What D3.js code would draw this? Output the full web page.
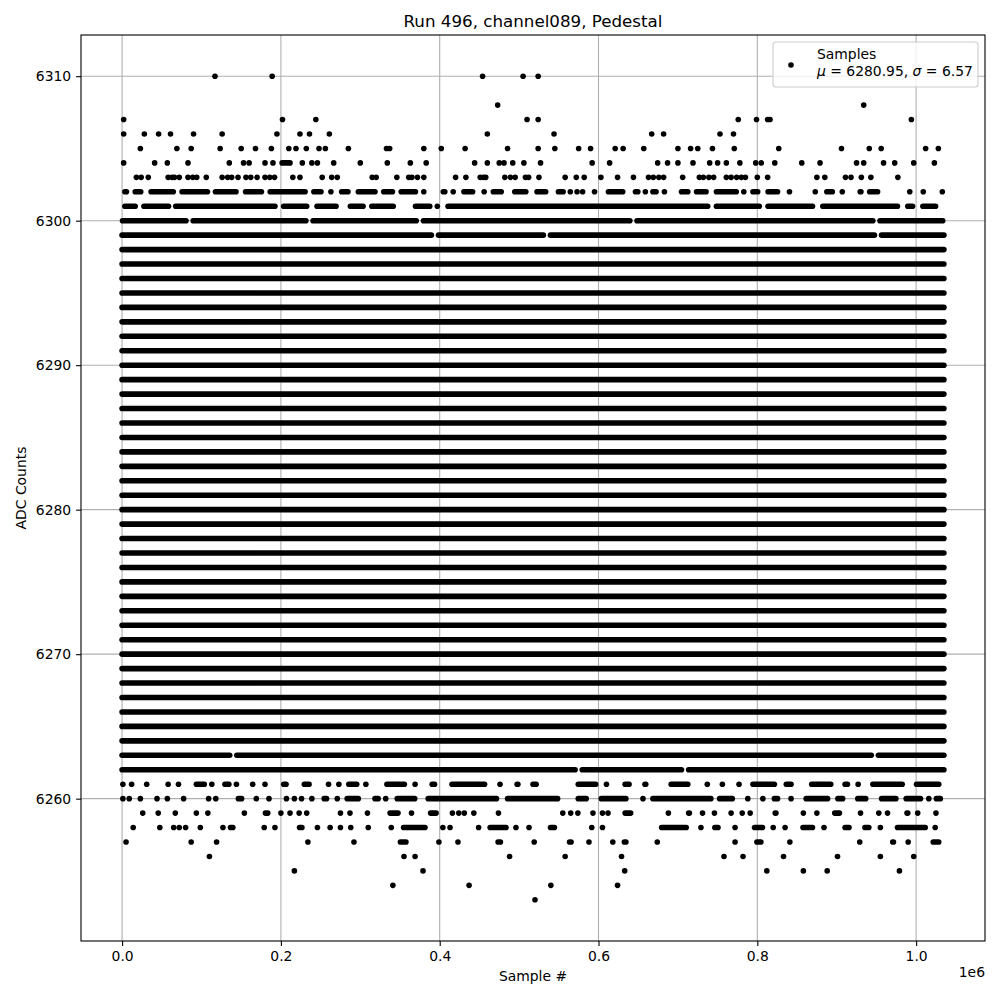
<!DOCTYPE html>
<html>
<head>
<meta charset="utf-8">
<script src="https://cdn.jsdelivr.net/npm/d3@7"></script>
<style>
    body { margin: 0; background: #fff; }
    text { font-family: "DejaVu Sans", sans-serif; }
</style>
</head>
<body>
<div id="chart-container"></div>
<script>
// sample index in units of 1e6, ADC counts are integers
const xTicks = [0.0, 0.2, 0.4, 0.6, 0.8, 1.0];
const yTicks = [6260, 6270, 6280, 6290, 6300, 6310];
const sampleMax = 1.035;

// levels where the samples form a continuous band over the full run
const denseLevels = [6262, 6263, 6264, 6265, 6266, 6267, 6268, 6269, 6270, 6271, 6272, 6273, 6274,
    6275, 6276, 6277, 6278, 6279, 6280, 6281, 6282, 6283, 6284, 6285, 6286, 6287, 6288, 6289, 6290,
    6291, 6292, 6293, 6294, 6295, 6296, 6297, 6298, 6299];
// small holes in the dense bands [level, sample]
const denseGaps = [[6299, 0.394], [6299, 0.535], [6299, 0.952], [6263, 0.140], [6263, 0.948],
    [6262, 0.575], [6262, 0.709]];

// sparse levels: single number = one sample, pair = run of neighbouring samples (outer edges)
const r6310 = [0.117, 0.189, 0.454, 0.505, 0.524];
const r6308 = [0.473, 0.934];
const r6307 = [0.002, 0.202, 0.244, 0.510, 0.524, 0.776, 0.799, 0.813, 0.816, 0.994];
const r6306 = [0.002, 0.028, 0.046, 0.061, 0.090, 0.126, 0.195, 0.224, 0.236, 0.261, 0.460, 0.544,
    0.667, 0.682, 0.753, 0.770];
const r6305 = [0.023, [0.068, 0.070], 0.087, [0.122, 0.125], 0.150, 0.168, 0.188, 0.210, 0.219, 0.232,
    0.248, 0.256, 0.285, 0.333, 0.337, 0.380, 0.402, 0.432, [0.483, 0.488], 0.524, 0.545, 0.575, 0.590,
    0.621, 0.631, 0.657, [0.697, 0.703], 0.716, 0.725, [0.741, 0.746], 0.771, 0.827, 0.906, 0.941, 0.956,
    1.012, 1.028];
const r6304 = [0.002, 0.041, 0.057, 0.083, 0.135, 0.153, 0.160, [0.177, 0.183], 0.190, [0.198, 0.215],
    0.227, 0.239, 0.246, [0.265, 0.268], 0.300, 0.334, [0.361, 0.365], [0.381, 0.385], 0.444, 0.460,
    0.475, 0.481, 0.492, 0.506, [0.525, 0.529], 0.592, 0.614, [0.671, 0.678], 0.687, [0.697, 0.703],
    0.719, 0.740, 0.750, 0.761, 0.778, 0.798, 0.805, 0.822, 0.856, [0.876, 0.882], 0.925, 0.934, 0.959,
    0.973, 0.997, 1.023];
const r6303 = [0.018, 0.024, 0.033, 0.058, 0.063, 0.066, 0.072, 0.083, 0.089, 0.094, 0.106, 0.126, 0.133,
    0.138, 0.146, 0.156, 0.162, 0.170, 0.180, 0.186, 0.192, 0.215, 0.224, 0.252, 0.264, 0.271, 0.315,
    0.320, 0.346, 0.361, 0.365, 0.372, 0.380, 0.420, 0.433, 0.451, 0.455, 0.458, 0.482, 0.489, 0.495,
    0.508, 0.512, 0.525, 0.558, 0.572, 0.582, 0.603, 0.624, 0.644, 0.663, 0.669, 0.676, 0.682, 0.706,
    0.727, 0.732, 0.739, 0.745, 0.761, 0.767, 0.774, 0.780, 0.785, 0.800, 0.813, 0.875, 0.885, 0.911,
    0.918, 0.931, 0.943, 0.977];
const r6302 = [[0.0, 0.009], [0.013, 0.027], [0.033, 0.068], [0.072, 0.111], [0.114, 0.147], [0.152, 0.179],
    [0.183, 0.234], [0.238, 0.254], [0.261, 0.265], [0.273, 0.288], [0.294, 0.322], [0.326, 0.344],
    [0.348, 0.373], 0.380, [0.401, 0.410], 0.417, [0.427, 0.445], 0.456, [0.464, 0.481], [0.491, 0.512],
    [0.519, 0.537], [0.546, 0.559], [0.562, 0.567], 0.573, 0.580, [0.592, 0.598], [0.609, 0.634],
    [0.643, 0.653], 0.659, [0.665, 0.676], 0.683, [0.701, 0.716], [0.720, 0.739], [0.745, 0.777], 0.783,
    [0.791, 0.804], [0.810, 0.829], [0.837, 0.844], 0.873, [0.884, 0.898], 0.907, [0.926, 0.934],
    [0.938, 0.955], 0.992, 1.009, 1.033];
const r6301 = [[0.0, 0.020], [0.024, 0.062], [0.064, 0.196], [0.200, 0.236], [0.242, 0.273], [0.284, 0.307],
    [0.311, 0.345], [0.366, 0.391], 0.397, [0.407, 0.741], [0.745, 0.806], [0.810, 0.873], [0.879, 0.980],
    [0.986, 0.999], [1.005, 1.028]];
const r6300 = [[-0.003, 0.084], [0.086, 0.235], [0.237, 0.374], [0.376, 0.643], [0.645, 0.949], [0.951, 1.037]];

const r6261 = [0.001, 0.012, [0.028, 0.034], 0.058, 0.071, [0.090, 0.107], 0.113, [0.126, 0.138], 0.144,
    [0.162, 0.167], 0.180, [0.200, 0.210], [0.226, 0.239], [0.257, 0.263], 0.273, [0.282, 0.299], 0.307,
    [0.330, 0.359], 0.369, [0.387, 0.397], [0.412, 0.460], [0.473, 0.479], [0.494, 0.502], [0.514, 0.525],
    [0.571, 0.600], 0.610, [0.630, 0.642], [0.655, 0.663], [0.688, 0.716], 0.737, 0.756, [0.774, 0.780],
    [0.791, 0.825], [0.833, 0.846], [0.865, 0.896], [0.907, 0.917], 0.927, [0.942, 0.986], [0.997, 1.032]];
const r6260 = [0.001, 0.009, [0.020, 0.026], 0.044, 0.057, [0.076, 0.079], 0.109, 0.118, [0.143, 0.154],
    0.169, 0.185, 0.207, 0.217, 0.226, [0.236, 0.242], [0.251, 0.261], 0.271, [0.280, 0.301],
    [0.315, 0.326], 0.332, [0.343, 0.372], [0.382, 0.475], [0.482, 0.552], [0.571, 0.588], [0.600, 0.638],
    0.656, [0.665, 0.745], [0.749, 0.772], 0.788, [0.806, 0.808], [0.818, 0.829], [0.839, 0.846],
    [0.858, 0.892], [0.898, 0.911], [0.923, 0.940], [0.953, 0.978], [0.984, 1.009], 1.016, [1.022, 1.034]];
const r6259 = [0.026, [0.042, 0.049], 0.067, [0.091, 0.096], 0.108, 0.154, [0.177, 0.187], 0.200,
    [0.208, 0.215], 0.223, [0.229, 0.236], 0.275, 0.287, [0.307, 0.311], [0.334, 0.351], [0.361, 0.368],
    [0.385, 0.399], 0.416, 0.424, 0.431, 0.443, 0.474, 0.555, 0.565, 0.574, 0.593, 0.605, 0.612,
    [0.630, 0.644], 0.688, [0.710, 0.718], 0.731, 0.746, 0.767, 0.781, 0.791, [0.819, 0.827], 0.858,
    0.875, [0.894, 0.907], 0.930, 0.953, 0.964, [0.985, 0.993], 1.002, 1.025];
const r6258 = [0.014, [0.044, 0.051], 0.065, 0.072, 0.080, [0.096, 0.101], 0.127, [0.133, 0.143], 0.179,
    [0.191, 0.194], [0.220, 0.230], [0.244, 0.248], 0.262, 0.275, [0.285, 0.291], 0.310, 0.339,
    [0.351, 0.385], 0.404, 0.413, 0.449, [0.460, 0.487], 0.496, [0.510, 0.515], [0.536, 0.548],
    [0.588, 0.595], 0.605, [0.676, 0.714], 0.729, [0.743, 0.754], 0.772, [0.793, 0.810], 0.820,
    [0.833, 0.837], [0.854, 0.873], 0.884, [0.907, 0.919], [0.932, 0.944], 0.955, [0.973, 1.015], 1.024];
const r6257 = [0.005, 0.087, 0.119, 0.234, 0.292, [0.347, 0.361], 0.399, 0.423, [0.470, 0.480], 0.519,
    [0.560, 0.569], 0.588, 0.618, [0.629, 0.638], 0.674, 0.772, [0.796, 0.808], 0.841, 0.929,
    [0.967, 0.975], 0.990, [1.018, 1.032]];
const r6256 = [0.110, 0.355, 0.369, 0.488, 0.558, 0.629, 0.758, 0.782, 0.833, 0.901, 0.955, 0.997];
const r6255 = [0.217, 0.379, 0.633, [0.810, 0.814], 0.858, 0.888, 0.979];
const r6254 = [0.341, 0.437, 0.540, 0.624];
const r6253 = [0.520];

const sparseRows = [
    [6310, r6310], [6308, r6308], [6307, r6307], [6306, r6306], [6305, r6305], [6304, r6304],
    [6303, r6303], [6302, r6302], [6301, r6301], [6300, r6300],
    [6261, r6261], [6260, r6260], [6259, r6259], [6258, r6258], [6257, r6257], [6256, r6256],
    [6255, r6255], [6254, r6254], [6253, r6253]
];

const legendLabel = "Samples";
const sampleMean = 6280.95;
const sampleStd = 6.57;

window.onload = function () {
    const width = 1000;
    const height = 1000;
    const margin = {top: 35, right: 15, bottom: 59, left: 81};
    const fs = 13.9;
    const r = 2.8;

    const x = d3.scaleLinear()
        .domain([-0.05 * sampleMax, 1.05 * sampleMax])
        .range([margin.left, width - margin.right]);
    const y = d3.scaleLinear()
        .domain([6253 - 0.05 * 57, 6310 + 0.05 * 57])
        .range([height - margin.bottom, margin.top]);

    const svg = d3.create("svg")
        .attr("width", width)
        .attr("height", height)
        .attr("viewBox", [0, 0, width, height]);

    svg.append("rect")
        .attr("width", width)
        .attr("height", height)
        .attr("fill", "#fff");

    // grid
    const grid = svg.append("g")
        .attr("stroke", "#b0b0b0")
        .attr("stroke-width", 1.1);
    grid.selectAll("line.vx")
        .data(xTicks)
        .join("line")
        .attr("x1", d => x(d))
        .attr("x2", d => x(d))
        .attr("y1", y.range()[0])
        .attr("y2", y.range()[1]);
    grid.selectAll("line.hy")
        .data(yTicks)
        .join("line")
        .attr("class", "hy")
        .attr("x1", x.range()[0])
        .attr("x2", x.range()[1])
        .attr("y1", d => y(d))
        .attr("y2", d => y(d));

    // dense bands, split at the gaps
    const half = 0.0045;
    const bands = [];
    denseLevels.forEach(level => {
        const gaps = denseGaps.filter(g => g[0] === level).map(g => g[1]).sort((a, b) => a - b);
        let start = 0;
        gaps.forEach(g => {
            bands.push({level: level, x1: x(start), x2: x(g - half)});
            start = g + half;
        });
        bands.push({level: level, x1: x(start), x2: x(sampleMax)});
    });

    // runs were read at their outer edges: pull the ends in by one dot radius
    const runs = [];
    const dots = [];
    sparseRows.forEach(([level, items]) => {
        items.forEach(item => {
            if (Array.isArray(item)) {
                const x1 = x(item[0]) + r;
                const x2 = x(item[1]) - r;
                if (x2 > x1) {
                    runs.push({level: level, x1: x1, x2: x2});
                } else {
                    dots.push({level: level, cx: (x1 + x2) / 2});
                }
            } else {
                dots.push({level: level, cx: x(item)});
            }
        });
    });

    const marks = svg.append("g");
    marks.append("g")
        .attr("stroke", "#000")
        .attr("stroke-width", 2 * r)
        .attr("stroke-linecap", "round")
        .selectAll("line")
        .data(bands.concat(runs))
        .join("line")
        .attr("x1", d => d.x1)
        .attr("x2", d => d.x2)
        .attr("y1", d => y(d.level))
        .attr("y2", d => y(d.level));
    marks.append("g")
        .attr("fill", "#000")
        .selectAll("circle")
        .data(dots)
        .join("circle")
        .attr("cx", d => d.cx)
        .attr("cy", d => y(d.level))
        .attr("r", r);

    // axes
    const xAxis = svg.append("g")
        .attr("transform", `translate(0,${y.range()[0]})`)
        .call(d3.axisBottom(x).tickValues(xTicks).tickFormat(d3.format(".1f"))
            .tickSize(4.9).tickPadding(4.9));
    const yAxis = svg.append("g")
        .attr("transform", `translate(${x.range()[0]},0)`)
        .call(d3.axisLeft(y).tickValues(yTicks).tickFormat(d3.format("d"))
            .tickSize(4.9).tickPadding(4.9));
    [xAxis, yAxis].forEach(ax => {
        ax.select(".domain").remove();
        ax.selectAll(".tick line").attr("stroke", "#000").attr("stroke-width", 1.1);
        ax.selectAll(".tick text")
            .attr("fill", "#000")
            .style("font-size", fs + "px")
            .style("font-family", "DejaVu Sans, sans-serif");
    });

    svg.append("rect")
        .attr("x", x.range()[0])
        .attr("y", y.range()[1])
        .attr("width", x.range()[1] - x.range()[0])
        .attr("height", y.range()[0] - y.range()[1])
        .attr("fill", "none")
        .attr("stroke", "#000")
        .attr("stroke-width", 1.1);

    // labels
    svg.append("text")
        .attr("x", (x.range()[0] + x.range()[1]) / 2)
        .attr("y", 27)
        .attr("text-anchor", "middle")
        .style("font-size", "16.7px")
        .text("Run 496, channel089, Pedestal");
    svg.append("text")
        .attr("x", (x.range()[0] + x.range()[1]) / 2)
        .attr("y", 981)
        .attr("text-anchor", "middle")
        .style("font-size", fs + "px")
        .text("Sample #");
    svg.append("text")
        .attr("transform", `translate(26,${(y.range()[0] + y.range()[1]) / 2}) rotate(-90)`)
        .attr("text-anchor", "middle")
        .style("font-size", fs + "px")
        .text("ADC Counts");
    svg.append("text")
        .attr("x", x.range()[1])
        .attr("y", 977)
        .attr("text-anchor", "end")
        .style("font-size", fs + "px")
        .text("1e6");

    // legend
    const lg = svg.append("g");
    lg.append("rect")
        .attr("x", 773)
        .attr("y", 42)
        .attr("width", 205)
        .attr("height", 45)
        .attr("rx", 3)
        .attr("fill", "#fff")
        .attr("fill-opacity", 0.8)
        .attr("stroke", "#cccccc")
        .attr("stroke-width", 1.1);
    lg.append("circle")
        .attr("cx", 791)
        .attr("cy", 65)
        .attr("r", r);
    lg.append("text")
        .attr("x", 817)
        .attr("y", 59)
        .style("font-size", fs + "px")
        .text(legendLabel);
    const stat = lg.append("text")
        .attr("x", 817)
        .attr("y", 76)
        .style("font-size", fs + "px")
        .attr("xml:space", "preserve");
    stat.append("tspan").style("font-style", "italic").text("\u03bc");
    stat.append("tspan").text(` = ${sampleMean.toFixed(2)}, `);
    stat.append("tspan").style("font-style", "italic").text("\u03c3");
    stat.append("tspan").text(` = ${sampleStd.toFixed(2)}`);

    document.getElementById("chart-container").appendChild(svg.node());
};
</script>
</body>
</html>
